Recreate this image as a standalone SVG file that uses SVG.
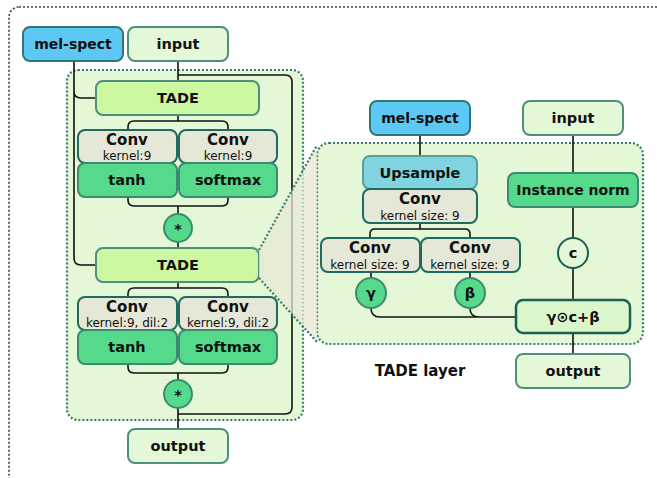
<svg xmlns="http://www.w3.org/2000/svg" width="657" height="478" viewBox="0 0 657 478">
<defs>
<style>
text{font-family:"DejaVu Sans","Verdana",sans-serif;text-anchor:middle;fill:#111}
.b{font-weight:bold;font-size:14.5px}
.cv{font-weight:bold;font-size:15px}
.s{font-size:12px}
.mel{fill:#5ec8f4;stroke:#2f7676;stroke-width:2}
.inp{fill:#e4f7d6;stroke:#4e8f7e;stroke-width:2}
.tade{fill:#ccf8a2;stroke:#4e8f7e;stroke-width:2}
.conv{fill:#e6e8d7;stroke:#1e6a60;stroke-width:2}
.grn{fill:#55d98b;stroke:#3b8a72;stroke-width:2}
.ups{fill:#80d4e0;stroke:#5a9e98;stroke-width:2}
.gc{fill:#dcf6cc;stroke:#1a6055;stroke-width:2.5}
.panel{fill:#e4f7d6;stroke:#3b7a72;stroke-width:2.2;stroke-dasharray:2 2}
.ln{fill:none;stroke:#111;stroke-width:1.6}
</style>
</defs>
<rect x="9" y="7" width="680" height="500" rx="10" fill="none" stroke="#444" stroke-width="1.6" stroke-dasharray="2 2"/>
<rect class="panel" x="67" y="70" width="236" height="350" rx="11"/>
<g id="connectors">
<path class="ln" d="M178,61 V81 M178,75 H285 Q292,75 292,82 V407 Q292,414 285,414 H178 M74,61 V258 Q74,265 81,265 H96 M74,91 Q74,98 81,98 H96"/>
<path class="ln" d="M178,115 V121 M128,130 V127 Q128,121 134,121 H222 Q228,121 228,127 V130"/>
<path class="ln" d="M128,197 V200 Q128,206 134,206 H222 Q228,206 228,200 V197 M178,206 V214 M178,242 V248"/>
<path class="ln" d="M178,282 V288 M128,297 V294 Q128,288 134,288 H222 Q228,288 228,294 V297"/>
<path class="ln" d="M128,364 V367 Q128,373 134,373 H222 Q228,373 228,367 V364 M178,373 V380 M178,408 V429"/>
</g>
<g id="tade1"><rect class="tade" x="96" y="81" width="163" height="34" rx="7"/><text class="b" x="178" y="103">TADE</text></g>
<g id="conv1a"><rect class="conv" x="78" y="130" width="99" height="33" rx="7"/><text class="cv" x="127" y="145">Conv</text><text class="s" x="127" y="160">kernel:9</text></g>
<g id="conv1b"><rect class="conv" x="179" y="130" width="98" height="33" rx="7"/><text class="cv" x="228" y="145">Conv</text><text class="s" x="228" y="160">kernel:9</text></g>
<g id="tanh1"><rect class="grn" x="78" y="163" width="99" height="34" rx="7"/><text class="b" x="127" y="185">tanh</text></g>
<g id="softmax1"><rect class="grn" x="179" y="163" width="98" height="34" rx="7"/><text class="b" x="228" y="185">softmax</text></g>
<g id="star1"><circle class="grn" cx="178" cy="228" r="14"/><text class="b" x="178" y="234">*</text></g>
<g id="tade2"><rect class="tade" x="96" y="248" width="163" height="34" rx="7"/><text class="b" x="178" y="270">TADE</text></g>
<g id="conv2a"><rect class="conv" x="78" y="297" width="99" height="33" rx="7"/><text class="cv" x="127" y="312">Conv</text><text class="s" x="127" y="327">kernel:9, dil:2</text></g>
<g id="conv2b"><rect class="conv" x="179" y="297" width="98" height="33" rx="7"/><text class="cv" x="228" y="312">Conv</text><text class="s" x="228" y="327">kernel:9, dil:2</text></g>
<g id="tanh2"><rect class="grn" x="78" y="330" width="99" height="34" rx="7"/><text class="b" x="127" y="352">tanh</text></g>
<g id="softmax2"><rect class="grn" x="179" y="330" width="98" height="34" rx="7"/><text class="b" x="228" y="352">softmax</text></g>
<g id="star2"><circle class="grn" cx="178" cy="394" r="14"/><text class="b" x="178" y="400">*</text></g>
<g id="mel1"><rect class="mel" x="23" y="27" width="100" height="34" rx="7"/><text class="b" x="73" y="49" style="font-size:14px">mel-spect</text></g>
<g id="input1"><rect class="inp" x="128" y="27" width="100" height="34" rx="7"/><text class="b" x="178" y="49">input</text></g>
<g id="output1"><rect class="inp" x="128" y="429" width="100" height="34" rx="7"/><text class="b" x="178" y="451">output</text></g>
<rect class="panel" x="317" y="143" width="326" height="201" rx="12"/>
<g id="zoom"><polygon points="259,250 317,145 317,342 259,278" fill="#e8e8d6" fill-opacity="0.75"/><path d="M259,250 L317,145 M259,278 L317,342" fill="none" stroke="#3b7a72" stroke-width="2.2" stroke-dasharray="2 2"/></g>
<g id="connectors2">
<path class="ln" d="M420,135 V156 M420,223 V229 M370,238 V234 Q370,229 375,229 H465 Q470,229 470,234 V238 M371,272 V278 M470,272 V278"/>
<path class="ln" d="M371,308 Q371,317 380,317 H516 M470,308 Q470,317 479,317"/>
<path class="ln" d="M573,135 V173 M573,207 V238 M573,268 V300 M573,333 V354"/>
</g>
<g id="mel2"><rect class="mel" x="370" y="101" width="100" height="34" rx="7"/><text class="b" x="420" y="123" style="font-size:14px">mel-spect</text></g>
<g id="input2"><rect class="inp" x="523" y="101" width="100" height="34" rx="7"/><text class="b" x="573" y="123">input</text></g>
<g id="upsample"><rect class="ups" x="363" y="156" width="114" height="33" rx="7"/><text class="b" x="420" y="178">Upsample</text></g>
<g id="conv3"><rect class="conv" x="363" y="189" width="114" height="34" rx="7"/><text class="cv" x="420" y="204">Conv</text><text class="s" x="420" y="219.5">kernel size: 9</text></g>
<g id="conv4a"><rect class="conv" x="321" y="238" width="99" height="34" rx="7"/><text class="cv" x="370" y="253">Conv</text><text class="s" x="370" y="268.5">kernel size: 9</text></g>
<g id="conv4b"><rect class="conv" x="421" y="238" width="99" height="34" rx="7"/><text class="cv" x="470" y="253">Conv</text><text class="s" x="470" y="268.5">kernel size: 9</text></g>
<g id="inorm"><rect class="grn" x="508" y="173" width="130" height="34" rx="7"/><text class="b" x="573" y="195" style="font-size:14px">Instance norm</text></g>
<g id="c"><circle cx="573" cy="253" r="15" fill="#e4f7d6" stroke="#1a6055" stroke-width="2"/><text class="b" x="573" y="258">c</text></g>
<g id="gamma"><circle class="grn" cx="371" cy="293" r="15"/><text class="b" x="371" y="298">γ</text></g>
<g id="beta"><circle class="grn" cx="470" cy="293" r="15"/><text class="b" x="470" y="298">β</text></g>
<g id="gcb"><rect class="gc" x="516" y="300" width="114" height="33" rx="7"/><text class="b" x="573" y="322">γ⊙c+β</text></g>
<g id="output2"><rect class="inp" x="516" y="354" width="114" height="34" rx="7"/><text class="b" x="573" y="376">output</text></g>
<text class="b" x="420" y="376" style="font-size:15px">TADE layer</text>
</svg>
